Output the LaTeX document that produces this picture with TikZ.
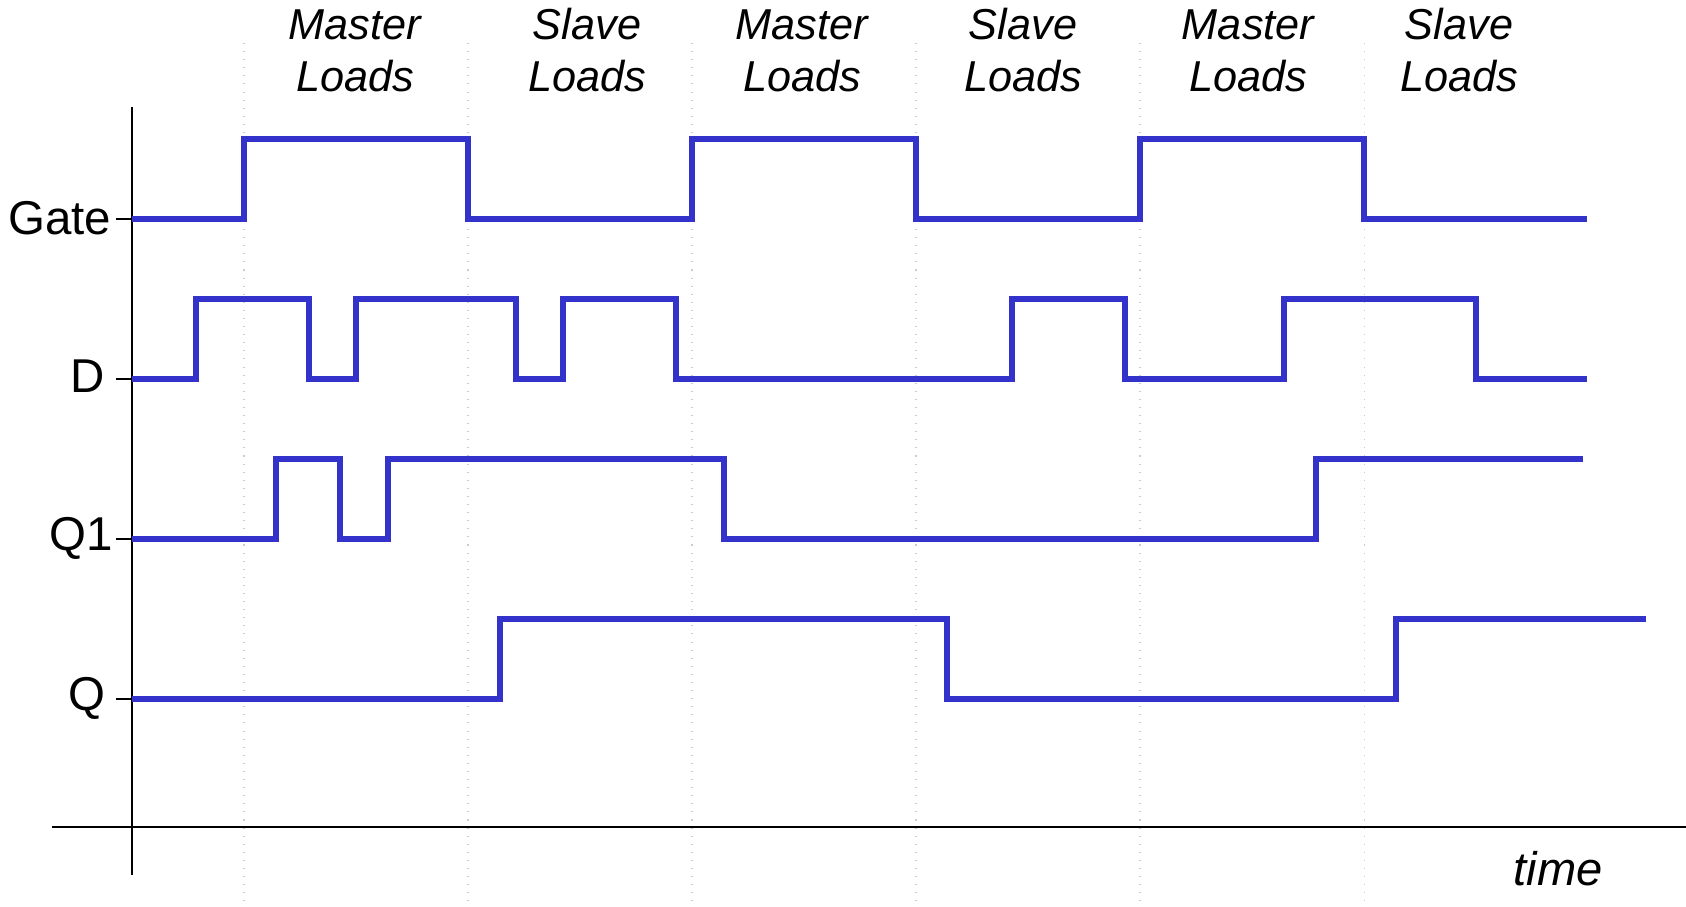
\documentclass[tikz,border=0pt]{standalone}
\usepackage{fontspec}
\setmainfont{Liberation Sans}
\usetikzlibrary{positioning}

\definecolor{wireblue}{RGB}{51,51,204}

\begin{document}
\begin{tikzpicture}[x = 0.01cm, y = -0.01cm,
    wave/.style = {draw = wireblue, line width = 1.45pt},
    grid/.style = {draw = gray!40, dotted, line width = 0.3pt},
    axis/.style = {draw = black, line width = 0.4pt},
    sig/.style = {inner sep = 0pt, font = \fontsize{13.5pt}{16pt}\selectfont},
    phase/.style = {inner sep = 0pt, anchor = north, align = center, font = \fontsize{12.3pt}{14.8pt}\selectfont\itshape}]
    \useasboundingbox (0,0) rectangle (1686,907);

    % clock phase boundaries
    \foreach \x in {244,468,692,916,1140,1364}
        \draw[grid] (\x,43) -- (\x,907);

    % axes
    \coordinate (ytop) at (132,107);
    \coordinate (ybot) at (132,875);
    \coordinate (xleft) at (52,827);
    \coordinate (xright) at (1686,827);
    \draw[axis] (ytop) -- (ybot);
    \draw[axis] (xleft) -- (xright);

    % signal names and ticks
    \node[sig, anchor = base east]	(gate)	at (112,235)	{Gate};
    \node[sig, anchor = base east]	(d)	at (105,393)	{D};
    \node[sig, anchor = base east]	(q1)	at (114,550)	{Q1};
    \node[sig, anchor = base east]	(q)	at (106,710)	{Q};
    \foreach \y in {219,379,539,699}
        \draw[axis] (116,\y) -- (132,\y);

    % phase labels
    \node[phase]	(m1)	at (355,9)	{Master\\Loads};
    \node[phase]	(s1)	at (587,7)	{Slave\\Loads};
    \node[phase]	(m2)	at (802,9)	{Master\\Loads};
    \node[phase]	(s2)	at (1023,7)	{Slave\\Loads};
    \node[phase]	(m3)	at (1248,9)	{Master\\Loads};
    \node[phase]	(s3)	at (1459,7)	{Slave\\Loads};
    \node[inner sep = 0pt, anchor = base west, font = \fontsize{13.4pt}{16pt}\selectfont\itshape]	(time)	at (1513,885)	{time};

    % waveforms
    \draw[wave] (132,219) -| (244,139) -| (468,219) -| (692,139) -| (916,219) -| (1140,139) -| (1364,219) -- (1587,219);
    \draw[wave] (132,379) -| (196,299) -| (309,379) -| (356,299) -| (516,379) -| (563,299) -| (676,379) -| (1012,299) -| (1125,379) -| (1284,299) -| (1476,379) -- (1587,379);
    \draw[wave] (132,539) -| (276,459) -| (340,539) -| (388,459) -| (724,539) -| (1316,459) -- (1583,459);
    \draw[wave] (132,699) -| (500,619) -| (947,699) -| (1396,619) -- (1646,619);
\end{tikzpicture}
\end{document}
